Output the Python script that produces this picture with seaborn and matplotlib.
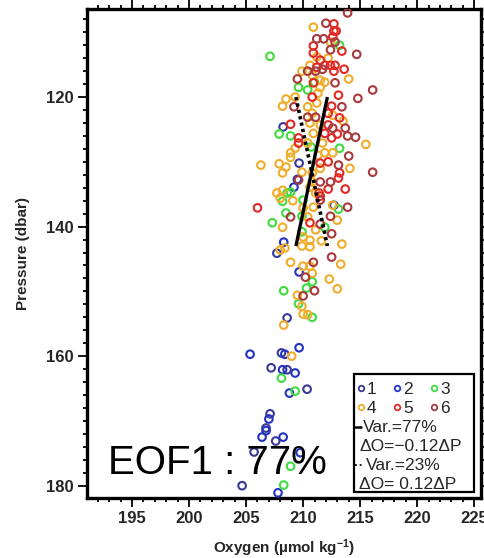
import numpy as np
import pandas as pd
import matplotlib
matplotlib.use("Agg")
import matplotlib.pyplot as plt
from matplotlib.patches import Rectangle
from matplotlib.lines import Line2D
from matplotlib.ticker import MultipleLocator
import seaborn as sns

# ---------------- data: oxygen (umol/kg) vs pressure (dbar), six profiles -------------
oxy_1 = [208.25, 209.65, 212.7, 207.7, 208.6, 208.1, 207.2, 208.6, 210.35, 207.1,
         206.75, 207.6, 205.7, 204.65]
pres_1 = [124.6, 130.2, 136.7, 144.1, 154.1, 159.5, 161.8, 162.1, 165.1, 168.9,
          171.1, 173.1, 174.8, 180.0]

oxy_2 = [209.5, 209.2, 208.3, 209.65, 205.35, 208.4, 209.65, 208.2, 209.3, 208.8,
         207.0, 206.75, 206.4, 208.25, 209.75, 207.8]
pres_2 = [132.7, 133.9, 142.4, 147.0, 159.7, 159.7, 158.7, 162.1, 162.6, 165.7,
          169.7, 171.5, 172.5, 172.5, 174.9, 181.1]

oxy_3 = [207.1, 213.2, 209.6, 210.4, 211.0, 207.9, 208.9, 213.2, 210.7, 208.2,
         208.6, 208.9, 210.0, 208.5, 207.3, 209.9, 213.1, 211.9, 209.9, 210.8,
         210.3, 208.3, 209.6, 210.8, 208.1, 209.3, 208.9, 208.3]
pres_3 = [113.7, 112.0, 118.5, 118.9, 117.7, 125.7, 126.0, 127.9, 127.7, 136.1,
          134.8, 134.7, 135.9, 137.9, 139.4, 138.4, 137.3, 140.1, 140.8, 148.5,
          149.5, 149.9, 151.9, 154.0, 163.4, 165.4, 177.0, 179.9]

oxy_4 = [210.9, 212.4, 211.2, 212.2, 210.6, 209.9, 214.0, 210.8, 211.5, 211.9,
         211.5, 208.5, 209.3, 208.2, 211.3, 211.2, 210.4, 210.8, 212.6, 213.5,
         210.6, 211.5, 210.9, 215.5, 209.3, 210.4, 211.7, 208.9, 208.9, 211.3,
         211.9, 212.6, 214.1, 206.3, 207.9, 208.5, 208.2, 209.9, 211.5, 210.8,
         210.8, 207.7, 208.2, 211.1, 210.6, 208.0, 209.1, 210.0, 210.9, 212.6,
         210.4, 213.0, 208.2, 211.1, 210.0, 210.6, 211.6, 213.4, 209.9, 210.6,
         208.0, 208.4, 208.9, 213.3, 210.0, 210.6, 210.8, 212.3, 209.5, 213.0,
         209.9, 210.0, 210.4, 208.3, 209.0]
pres_4 = [109.2, 111.5, 113.8, 114.0, 115.1, 116.0, 117.2, 116.6, 117.4, 117.7,
          118.5, 120.3, 120.0, 121.4, 119.4, 120.9, 121.5, 122.5, 122.8, 123.7,
          124.0, 124.3, 125.6, 127.3, 127.9, 127.1, 127.1, 128.6, 129.3, 129.0,
          128.6, 128.6, 131.0, 130.5, 130.3, 130.8, 131.7, 131.6, 131.0, 131.7,
          133.1, 134.8, 134.4, 134.8, 133.9, 135.6, 136.0, 137.1, 137.0, 136.7,
          138.5, 139.0, 140.1, 140.5, 141.6, 142.1, 142.2, 142.7, 143.0, 143.1,
          143.6, 143.3, 145.5, 145.8, 146.1, 146.1, 147.2, 148.1, 150.6, 149.6,
          152.3, 153.5, 153.6, 155.2, 160.0]

oxy_5 = [212.7, 212.7, 212.9, 212.6, 210.9, 213.4, 210.9, 211.5, 211.2, 211.9,
         212.4, 212.8, 213.6, 212.7, 210.9, 213.1, 210.8, 212.5, 212.2, 213.2,
         208.9, 212.2, 211.9, 213.0, 209.6, 209.6, 212.5, 212.2, 211.5, 213.2,
         213.1, 213.7, 211.4, 211.5, 212.2, 206.0, 210.6]
pres_5 = [108.7, 109.8, 109.8, 110.7, 112.1, 112.9, 113.2, 114.3, 115.4, 115.1,
          115.1, 115.1, 115.7, 116.0, 117.8, 119.7, 120.0, 121.4, 122.5, 123.2,
          124.2, 124.3, 125.6, 125.7, 126.3, 127.1, 126.3, 130.0, 130.2, 131.7,
          132.5, 134.2, 134.8, 135.3, 134.2, 137.1, 139.4]

oxy_6 = [213.9, 212.0, 211.2, 211.8, 212.8, 212.4, 214.7, 210.4, 211.1, 211.7,
         209.5, 212.8, 216.1, 214.8, 209.2, 213.4, 210.4, 211.1, 212.6, 213.7,
         213.9, 214.6, 214.0, 213.1, 216.1, 209.6, 211.5, 212.4, 213.9, 211.5,
         208.9, 212.4, 211.5, 212.5, 212.5, 210.9, 210.2, 210.0, 211.0]
pres_6 = [107.0, 108.6, 111.0, 111.0, 111.5, 112.7, 113.4, 116.0, 116.0, 115.7,
          117.2, 117.8, 118.9, 120.2, 121.5, 121.5, 123.1, 123.1, 124.8, 124.8,
          126.0, 126.2, 129.1, 130.5, 131.6, 132.8, 133.1, 133.1, 137.0, 135.9,
          138.5, 138.4, 139.6, 141.1, 144.7, 145.5, 147.8, 150.7, 149.9]

groups = ["1", "2", "3", "4", "5", "6"]
group_colors = ["#3a3a96", "#2335c0", "#3fdc3f", "#f0ad2c", "#e02a26", "#a83a3e"]

# principal axes of the cloud: explained variance and slope dO/dP
eof_var = [77, 23]
eof_slope = [-0.12, 0.12]
eof_center = (210.75, 131.5)
eof_prange = (120.0, 143.0)

oxy_all = [oxy_1, oxy_2, oxy_3, oxy_4, oxy_5, oxy_6]
pres_all = [pres_1, pres_2, pres_3, pres_4, pres_5, pres_6]
df = pd.concat(
    [pd.DataFrame({"oxygen": o, "pressure": p, "group": g})
     for o, p, g in zip(oxy_all, pres_all, groups)],
    ignore_index=True,
)

# ---------------- style ----------------
sns.set_theme(style="ticks")
plt.rcParams["font.family"] = ["Liberation Sans", "DejaVu Sans"]
plt.rcParams["mathtext.default"] = "regular"

W, H = 484, 558
fig = plt.figure(figsize=(W / 100, H / 100), dpi=100)
ax = fig.add_axes([87 / W, 1 - 498 / H, (481 - 87) / W, (498 - 9) / H])

for g, col in zip(groups, group_colors):
    sub = df[df["group"] == g]
    sns.scatterplot(data=sub, x="oxygen", y="pressure", ax=ax, marker="o", s=30,
                    facecolor="none", edgecolor=col, linewidth=1.5, legend=False,
                    zorder=3)

# EOF directions through the cloud centre
p_line = np.array(eof_prange)
for slope, ls, lw in zip(eof_slope, ["-", (0, (0.9, 0.9))], [2.4, 2.6]):
    o_line = eof_center[0] + slope * (p_line - eof_center[1])
    ax.plot(o_line, p_line, color="black", lw=lw, ls=ls, zorder=4,
            solid_capstyle="butt")

ax.set_xlim(191.05, 225.6)
ax.set_ylim(181.9, 106.4)

ax.xaxis.set_major_locator(MultipleLocator(5))
ax.xaxis.set_minor_locator(MultipleLocator(1))
ax.yaxis.set_major_locator(MultipleLocator(20))
ax.yaxis.set_minor_locator(MultipleLocator(2))
ax.tick_params(which="both", direction="out", top=True, right=True,
               width=1.3, color="black")
ax.tick_params(which="major", length=6.5)
ax.tick_params(which="minor", length=3)
ax.tick_params(axis="both", labelsize=12, pad=3)
for lab in ax.get_xticklabels() + ax.get_yticklabels():
    lab.set_fontweight("bold")
for sp in ax.spines.values():
    sp.set_linewidth(2.4)
    sp.set_color("black")

ax.set_xlabel("Oxygen (µmol kg$^{-1}$)", fontsize=11, fontweight="bold", labelpad=8)
ax.set_ylabel("Pressure (dbar)", fontsize=11, fontweight="bold", labelpad=12)


def fp(x, y):
    return x / W, 1 - y / H


# annotation
fig.text(*fp(108, 474), f"EOF1 : {eof_var[0]}%", fontsize=29, ha="left",
         va="baseline", color="black", zorder=10)

# key box
x0, y0 = fp(354, 492)
x1, y1 = fp(474, 374)
fig.add_artist(Rectangle((x0, y0), x1 - x0, y1 - y0, transform=fig.transFigure,
                         facecolor="white", edgecolor="black", lw=1.6, zorder=9))
fs = 12.5
rows = [388, 407]
for i, (g, col) in enumerate(zip(groups, group_colors)):
    r = rows[i // 3]
    mx = [361, 397, 434][i % 3]
    fig.add_artist(Line2D([mx / W], [1 - r / H], transform=fig.transFigure,
                          marker="o", ms=4.0, mfc="none", mec=col, mew=1.3,
                          ls="none", zorder=10))
    fig.text(*fp(mx + 6, r), g, fontsize=fs, ha="left", va="center_baseline", zorder=10)

fig.add_artist(Line2D([355 / W, 361 / W], [1 - 427 / H] * 2, transform=fig.transFigure,
                      color="black", lw=1.8, zorder=10))
fig.text(*fp(363, 426), f"Var.={eof_var[0]}%", fontsize=fs, ha="left",
         va="center_baseline", zorder=10)
fig.text(*fp(359, 445), f"ΔO=\u2212{abs(eof_slope[0]):.2f}ΔP", fontsize=fs, ha="left",
         va="center_baseline", zorder=10)
fig.add_artist(Line2D([355 / W, 364 / W], [1 - 465 / H] * 2, transform=fig.transFigure,
                      color="black", lw=1.3, ls=(0, (1, 1.6)), zorder=10))
fig.text(*fp(366, 464), f"Var.={eof_var[1]}%", fontsize=fs, ha="left",
         va="center_baseline", zorder=10)
fig.text(*fp(359, 483), f"ΔO= {eof_slope[1]:.2f}ΔP", fontsize=fs, ha="left",
         va="center_baseline", zorder=10)

fig.savefig("out.png", dpi=100)
